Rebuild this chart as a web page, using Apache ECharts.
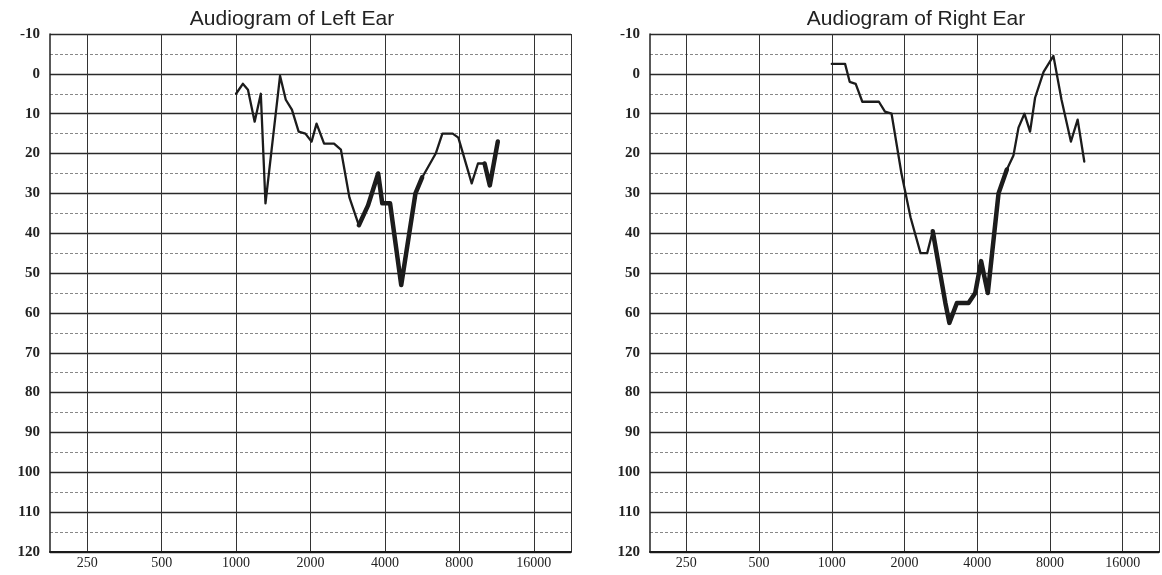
<!DOCTYPE html>
<html>
<head>
<meta charset="utf-8">
<script src="https://cdn.jsdelivr.net/npm/echarts@6/dist/echarts.min.js"></script>
<style>
html,body{margin:0;padding:0;background:#fff;}
#c{width:1162px;height:575px;}
</style>
</head>
<body>
<div id="c"></div>
<script>
// ---- data ----
const TICK_FREQS = [250, 500, 1000, 2000, 4000, 8000, 16000];
const TICK_LABELS = ['250', '500', '1000', '2000', '4000', '8000', '16000'];
const LEFT_FREQ = [1000,1065,1117,1189,1259,1315,1506,1589,1682,1791,1907,2020,2116,2270,2490,2654,2873,3138,3418,3756,3902,4196,4655,5316,5657,6420,6830,7520,7925,8975,9514,10119,10624,11443];
const LEFT_DB   = [5,2.5,4,12,5,32.5,0.5,6.5,9,14.5,15,17,12.5,17.5,17.5,19,31,38,33,25,32.5,32.5,53,30,26,20,15,15,16,27.5,22.5,22.5,28,17];
const RIGHT_FREQ = [1000,1135,1186,1256,1338,1567,1660,1768,1943,2118,2330,2483,2618,2953,3067,3296,3682,3925,4152,4425,4901,5306,5650,5929,6274,6620,6944,7530,8271,8935,9770,10420,11100];
const RIGHT_DB   = [-2.5,-2.5,2,2.5,7,7,9.5,10,25,36,45,45,39.5,57.5,62.5,57.5,57.5,55,47,55,30,24,20.5,13.5,10,14.5,6,-0.5,-4.5,6.5,17,11.5,22];
const TITLES = ['Audiogram of Left Ear', 'Audiogram of Right Ear'];

// ---- helpers ----
// half-octave position, 250 Hz -> 1, 16000 Hz -> 13, edges 0 and 14
const pos = f => 2 * Math.log2(f / 250) + 1;
const pts = (fr, db, a, b) => fr.slice(a, b).map((f, i) => [pos(f), db[a + i]]);
// category axis of 15 half-octave slots, labels on odd slots
const catData = [];
for (let k = 0; k <= 14; k++) catData.push(k % 2 === 1 ? TICK_LABELS[(k - 1) / 2] : '');

const LINE = '#1c1c1c';
const serif = 'Liberation Serif';

function xCat(gi) {
  return {
    type: 'category', gridIndex: gi, data: catData, boundaryGap: false, position: 'bottom',
    axisLine: {show: true, onZero: false, lineStyle: {color: '#1a1a1a', width: 2}},
    axisTick: {show: false},
    axisLabel: {interval: 0, color: '#222', fontFamily: serif, fontSize: 14, margin: 4},
    splitLine: {show: true, interval: (i) => i % 2 === 1 || i === 14, lineStyle: {color: '#333', width: 1}}
  };
}
function xVal(gi) {
  return {type: 'value', gridIndex: gi, min: 0, max: 14, show: false, splitLine: {show: false}};
}
function yAx(gi) {
  return {
    type: 'value', gridIndex: gi, inverse: true, min: -10, max: 120, interval: 10,
    axisLine: {show: true, onZero: false, lineStyle: {color: '#222', width: 1.5}},
    axisTick: {show: false},
    axisLabel: {color: '#222', fontFamily: serif, fontSize: 15, fontWeight: 'bold', margin: 10},
    splitLine: {show: true, lineStyle: {color: '#2a2a2a', width: 1.3}},
    minorTick: {show: false, splitNumber: 2},
    minorSplitLine: {show: true, lineStyle: {color: '#888', width: 1, type: [3, 2]}}
  };
}
function line(xi, data, w) {
  return {
    type: 'line', xAxisIndex: xi, yAxisIndex: xi === 1 ? 0 : 1, data: data,
    showSymbol: false, symbol: 'none', silent: true,
    lineStyle: {color: LINE, width: w, join: 'round', cap: 'round'}
  };
}

const option = {
  animation: false,
  backgroundColor: '#fff',
  title: [
    {text: TITLES[0], left: 287, top: 4, textAlign: 'center',
     textStyle: {fontFamily: 'Liberation Sans', fontSize: 21, fontWeight: 'normal', color: '#222'}},
    {text: TITLES[1], left: 911, top: 4, textAlign: 'center',
     textStyle: {fontFamily: 'Liberation Sans', fontSize: 21, fontWeight: 'normal', color: '#222'}}
  ],
  grid: [
    {left: 50, top: 34, width: 521, height: 518},
    {left: 650, top: 34, width: 511, height: 518}
  ],
  xAxis: [xCat(0), xVal(0), xCat(1), xVal(1)],
  yAxis: [yAx(0), yAx(1)],
  series: [
    line(1, pts(LEFT_FREQ, LEFT_DB, 0, LEFT_FREQ.length), 2.3),
    line(1, pts(LEFT_FREQ, LEFT_DB, 17, 25), 4.5),
    line(1, pts(LEFT_FREQ, LEFT_DB, 31, 34), 4.5),
    line(3, pts(RIGHT_FREQ, RIGHT_DB, 0, RIGHT_FREQ.length), 2.3),
    line(3, pts(RIGHT_FREQ, RIGHT_DB, 12, 22), 4.5)
  ]
};
const chart = echarts.init(document.getElementById('c'), null, {renderer: 'canvas'});
chart.setOption(option);
</script>
</body>
</html>
